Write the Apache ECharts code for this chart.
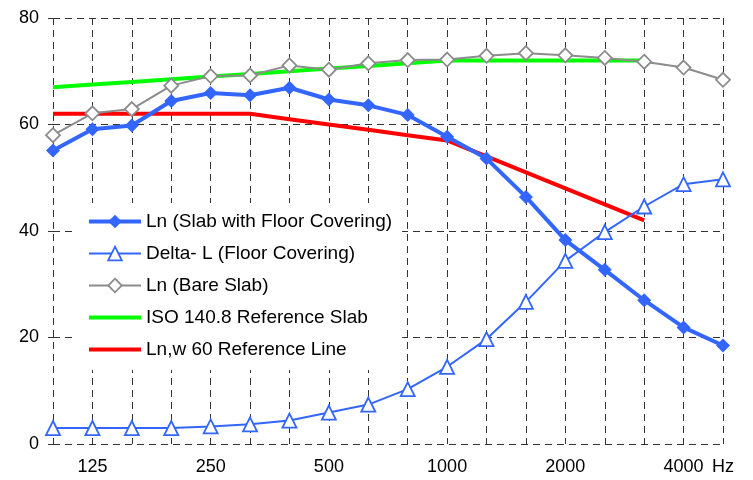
<!DOCTYPE html>
<html><head><meta charset="utf-8">
<script src="https://cdn.jsdelivr.net/npm/echarts@6/dist/echarts.min.js"></script>
<style>html,body{margin:0;padding:0;background:#fff}#c{width:753px;height:480px}</style>
</head><body><div id="c"></div>
<script>
var frequencies = ['100','125','160','200','250','315','400','500','630','800','1000','1250','1600','2000','2500','3150','4000','5000'];
var xTickLabels = ['', '125', '', '', '250', '', '', '500', '', '', '1000', '', '', '2000', '', '', '4000', 'Hz'];
var lnSlabCovering = [55.1, 59.1, 59.8, 64.4, 65.9, 65.5, 66.9, 64.7, 63.6, 61.8, 57.7, 53.6, 46.4, 38.3, 32.7, 27.0, 21.9, 18.5];
var deltaL = [3.0, 3.0, 3.0, 3.0, 3.3, 3.7, 4.4, 5.9, 7.4, 10.3, 14.5, 19.7, 26.7, 34.4, 39.8, 44.6, 48.8, 49.7];
var lnBareSlab = [58.0, 62.1, 62.9, 67.3, 69.1, 69.2, 71.1, 70.3, 71.5, 72.1, 72.2, 72.9, 73.4, 73.0, 72.5, 71.8, 70.7, 68.4];
var isoRefSlab = [67, 67.5, 68, 68.5, 69, 69.5, 70, 70.5, 71, 71.5, 72, 72, 72, 72, 72, 72];
var lnw60Ref = [62, 62, 62, 62, 62, 62, 61, 60, 59, 58, 57, 54, 51, 48, 45, 42];
var yTicks = [0, 20, 40, 60, 80];

var FONT = 'Liberation Sans, Arial, sans-serif';
var BLUE = '#3366ff', GRAY = '#8c8c8c', GREEN = '#00ff00', RED = '#ff0000';
var chart = echarts.init(document.getElementById('c'), null, {renderer: 'canvas'});
chart.setOption({
  animation: false,
  backgroundColor: '#fff',
  grid: {left: 53, right: 30, top: 18, bottom: 36, containLabel: false},
  legend: {
    orient: 'vertical', left: 72, top: 203,
    padding: [9, 10, 11, 15],
    backgroundColor: '#fff',
    itemWidth: 52, itemHeight: 17, itemGap: 13,
    textStyle: {fontFamily: FONT, fontSize: 19, color: '#000'},
    data: [
      {name: 'Ln (Slab with Floor Covering)', lineStyle: {width: 4, color: BLUE}, itemStyle: {color: BLUE, borderWidth: 0}},
      {name: 'Delta- L (Floor Covering)', lineStyle: {width: 2, color: BLUE}, itemStyle: {color: '#fff', borderColor: BLUE, borderWidth: 1.8}},
      {name: 'Ln (Bare Slab)', lineStyle: {width: 2, color: GRAY}, itemStyle: {color: '#fff', borderColor: GRAY, borderWidth: 1.8}},
      {name: 'ISO 140.8 Reference Slab', lineStyle: {width: 4, color: GREEN}, itemStyle: {color: 'rgba(0,0,0,0)', borderColor: 'rgba(0,0,0,0)', borderWidth: 0, opacity: 0}},
      {name: 'Ln,w 60 Reference Line', lineStyle: {width: 4, color: RED}, itemStyle: {color: 'rgba(0,0,0,0)', borderColor: 'rgba(0,0,0,0)', borderWidth: 0, opacity: 0}}
    ]
  },
  xAxis: {
    type: 'category', data: frequencies, boundaryGap: false,
    axisLine: {show: false}, axisTick: {show: false},
    axisLabel: {interval: 0, fontFamily: FONT, fontSize: 18, color: '#000', margin: 14,
      formatter: function (v, i) { return xTickLabels[i]; }},
    splitLine: {show: true, interval: 0, lineStyle: {color: '#333', width: 1, type: [7, 5]}}
  },
  yAxis: {
    type: 'value', min: yTicks[0], max: yTicks[yTicks.length - 1], interval: 20,
    axisLine: {show: false},
    axisTick: {show: true, length: 5, lineStyle: {color: '#333'}},
    axisLabel: {fontFamily: FONT, fontSize: 18, color: '#000', margin: 14},
    splitLine: {show: true, lineStyle: {color: '#333', width: 1, type: [7, 5]}}
  },
  series: [
    {name: 'ISO 140.8 Reference Slab', type: 'line', data: isoRefSlab, showSymbol: false, symbol: 'none',
      lineStyle: {color: GREEN, width: 4}, itemStyle: {color: GREEN}, z: 2},
    {name: 'Ln,w 60 Reference Line', type: 'line', data: lnw60Ref, showSymbol: false, symbol: 'none',
      lineStyle: {color: RED, width: 4}, itemStyle: {color: RED}, z: 3},
    {name: 'Ln (Bare Slab)', type: 'line', data: lnBareSlab, symbol: 'diamond', symbolSize: 14,
      lineStyle: {color: GRAY, width: 2},
      itemStyle: {color: '#fff', borderColor: GRAY, borderWidth: 1.8}, z: 4},
    {name: 'Delta- L (Floor Covering)', type: 'line', data: deltaL, symbol: 'triangle', symbolSize: 14,
      lineStyle: {color: BLUE, width: 2},
      itemStyle: {color: '#fff', borderColor: BLUE, borderWidth: 1.8}, z: 5},
    {name: 'Ln (Slab with Floor Covering)', type: 'line', data: lnSlabCovering, symbol: 'diamond', symbolSize: 14,
      lineStyle: {color: BLUE, width: 4},
      itemStyle: {color: BLUE, borderColor: BLUE, borderWidth: 0}, z: 6}
  ]
});
</script></body></html>
